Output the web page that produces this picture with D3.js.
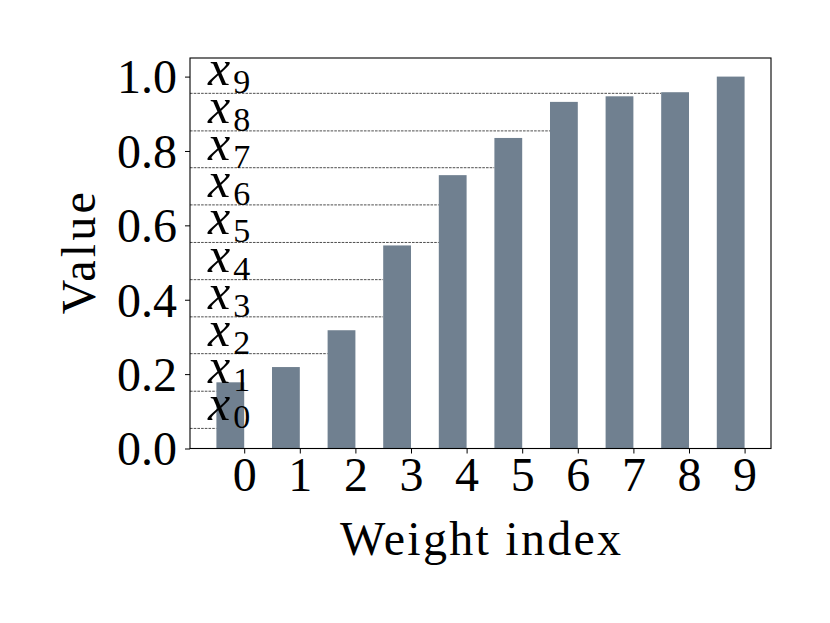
<!DOCTYPE html>
<html><head><meta charset="utf-8">
<script src="https://cdn.jsdelivr.net/npm/d3@7"></script>
<style>body{margin:0;background:#fff}svg{display:block}text{font-family:"Liberation Serif","Times New Roman",serif;fill:#000}</style>
</head><body>
<svg id="chart" width="830" height="623"></svg>
<script>
const indices = [0,1,2,3,4,5,6,7,8,9];
const values = [0.178,0.219,0.318,0.546,0.735,0.835,0.932,0.947,0.958,1.0];
const thresholds = [0.054,0.154,0.255,0.354,0.454,0.554,0.655,0.755,0.854,0.955];
const yTicks = [0.0,0.2,0.4,0.6,0.8,1.0];
const xLabel = "Weight index", yLabel = "Value";

const svg = d3.select("#chart");
const L=190, R=771, T=58, B=448.5;
const x = d3.scaleLinear().domain([-0.975, 9.475]).range([L, R]);
const y = d3.scaleLinear().domain([0, 1.05]).range([B, T]);
const fs = 48;

// dashed threshold lines (end at first bar exceeding)
thresholds.forEach((t,i)=>{
  let k = values.findIndex(v=>v>t);
  if (k<0) k = indices.length;
  svg.append("line").attr("x1",L).attr("x2",x(indices[k]-0.5)).attr("y1",y(t)).attr("y2",y(t))
    .attr("stroke","#000").attr("stroke-width",0.7).attr("stroke-dasharray","2.6,1.1");
});

// bars
svg.selectAll("rect.bar").data(indices).enter().append("rect")
  .attr("x",d=>x(d-0.5)).attr("width",d=>x(d)-x(d-0.5))
  .attr("y",(d,i)=>y(values[i])).attr("height",(d,i)=>y(0)-y(values[i]))
  .attr("fill","#708090");

// x_i labels
thresholds.forEach((t,i)=>{
  const tx = svg.append("text").attr("x",208).attr("y",y(t)-8).attr("font-size",fs);
  tx.append("tspan").attr("font-style","italic").attr("font-size",50).text("x");
  tx.append("tspan").attr("font-size",34).attr("dx",3).attr("dy",8).text(i);
});

// spines
svg.append("rect").attr("x",L).attr("y",T).attr("width",R-L).attr("height",B-T)
  .attr("fill","none").attr("stroke","#000").attr("stroke-width",1.1);

// axes ticks
const xAxis = d3.axisBottom(x).tickValues(indices).tickSize(5).tickPadding(3).tickFormat(d3.format("d"));
const gx = svg.append("g").attr("transform",`translate(0,${B})`).call(xAxis);
gx.select(".domain").remove();
gx.selectAll("text").attr("font-size",fs).attr("font-family",null).attr("dy","0.71em");
gx.selectAll("line").attr("stroke","#000").attr("stroke-width",1);

const yAxis = d3.axisLeft(y).tickValues(yTicks).tickSize(5).tickPadding(8).tickFormat(d3.format(".1f"));
const gy = svg.append("g").attr("transform",`translate(${L},0)`).call(yAxis);
gy.select(".domain").remove();
gy.selectAll("text").attr("font-size",fs).attr("font-family",null).attr("dy","0.34em");
gy.selectAll("line").attr("stroke","#000").attr("stroke-width",1);

svg.append("text").attr("x",(L+R)/2).attr("y",555).attr("text-anchor","middle").attr("font-size",fs)
  .attr("textLength",281).attr("lengthAdjust","spacing").text(xLabel);
svg.append("text").attr("transform",`translate(95,${(T+B)/2}) rotate(-90)`).attr("text-anchor","middle").attr("font-size",fs)
  .attr("textLength",122).attr("lengthAdjust","spacing").text(yLabel);
</script>
</body></html>
